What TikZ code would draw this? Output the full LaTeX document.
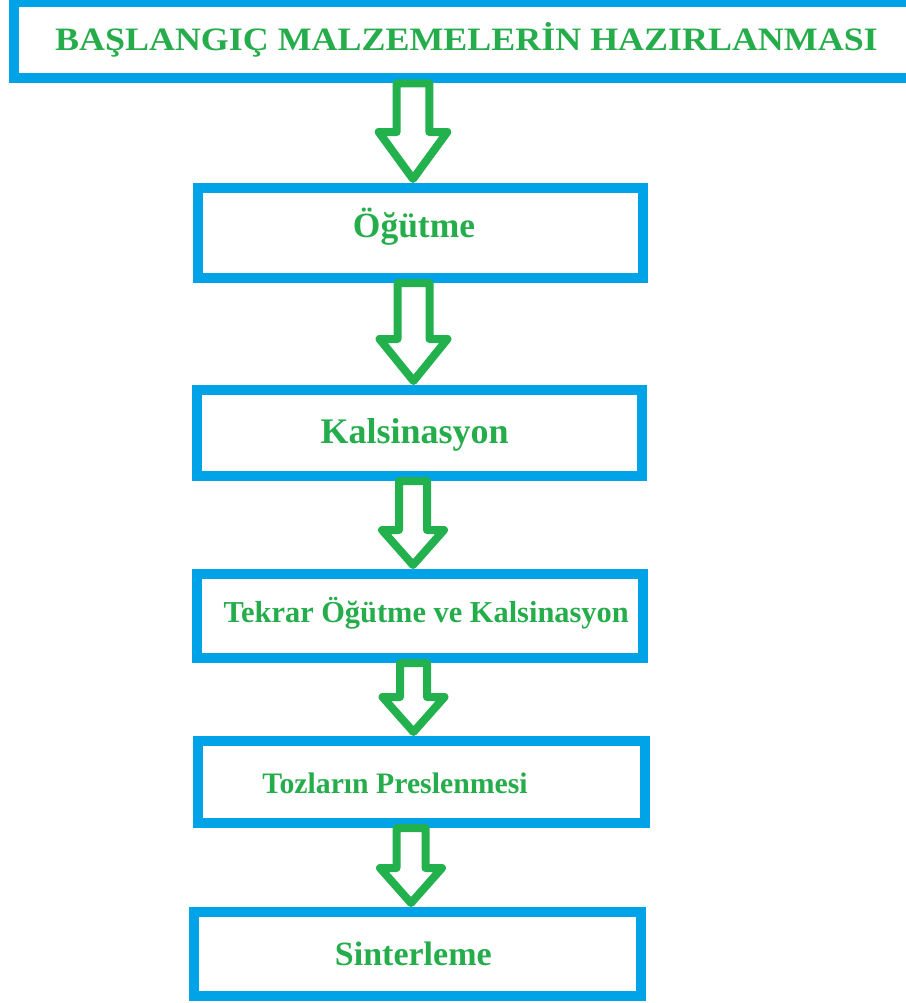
\documentclass[tikz,border=0pt]{standalone}
\usepackage{fontspec}
\setmainfont{Liberation Serif}
\usetikzlibrary{calc}
\definecolor{blu}{HTML}{00A2E8}
\definecolor{grn}{HTML}{22B14C}
\definecolor{txtgrn}{HTML}{26AD4B}
\tikzset{
  box/.style={draw=blu, line width=7.5pt, fill=white, inner sep=0pt},
  lbl/.style={text=txtgrn, anchor=base, inner sep=0pt, font=\bfseries},
  barrow/.style={draw=grn, line width=6pt, line join=round, fill=white},
}
% from node, to node, centre x (px), shaft half width, head half width, head length (px)
\newcommand\blockarrow[6]{%
  \draw[barrow] let \p1=(#1.south), \p2=(#2.north), \p3=(#3,0) in
    (\x3-#4*0.75pt,\y1) -- (\x3-#4*0.75pt,\y2+3pt+#6*0.75pt)
    -- (\x3-#5*0.75pt,\y2+3pt+#6*0.75pt) -- (\x3,\y2+3pt)
    -- (\x3+#5*0.75pt,\y2+3pt+#6*0.75pt) -- (\x3+#4*0.75pt,\y2+3pt+#6*0.75pt)
    -- (\x3+#4*0.75pt,\y1) -- cycle;
}
\begin{document}
\begin{tikzpicture}[x=0.75pt,y=-0.75pt]
\useasboundingbox (0,0) rectangle (906,1003);
\clip (0,0) rectangle (906,1003);
\fill[white] (0,0) rectangle (906,1003);
% boxes
\node[box, minimum width=906*0.75pt, minimum height=76.5*0.75pt] (b0) at (467,40) {};
\node[box, minimum width=445*0.75pt, minimum height=90*0.75pt] (b1) at (420.5,233) {};
\node[box, minimum width=445*0.75pt, minimum height=86*0.75pt] (b2) at (419.5,433) {};
\node[box, minimum width=446*0.75pt, minimum height=84*0.75pt] (b3) at (420,616) {};
\node[box, minimum width=447*0.75pt, minimum height=82*0.75pt] (b4) at (421.5,782) {};
\node[box, minimum width=447*0.75pt, minimum height=84*0.75pt] (b5) at (417.5,954) {};
% labels
\node[lbl, font=\bfseries\fontsize{24.5}{28}\selectfont] (t0) at (466.5,50) {\scalebox{1.1}[1]{BAŞLANGIÇ MALZEMELERİN HAZIRLANMASI}};
\node[lbl, font=\bfseries\fontsize{26.6}{30}\selectfont] (t1) at (414,237) {Öğütme};
\node[lbl, font=\bfseries\fontsize{27}{30}\selectfont] (t2) at (414.7,443) {Kalsinasyon};
\node[lbl, font=\bfseries\fontsize{22.8}{26}\selectfont] (t3) at (426.2,622.7) {Tekrar Öğütme ve Kalsinasyon};
\node[lbl, font=\bfseries\fontsize{22.3}{26}\selectfont] (t4) at (395,793) {Tozların Preslenmesi};
\node[lbl, font=\bfseries\fontsize{25.5}{28}\selectfont] (t5) at (413.3,965) {Sinterleme};
% arrows
\blockarrow{b0}{b1}{413}{16.3}{34.3}{47}
\blockarrow{b1}{b2}{413.5}{16}{34}{42}
\blockarrow{b2}{b3}{413}{14}{31}{35}
\blockarrow{b3}{b4}{413.5}{13.5}{31}{35}
\blockarrow{b4}{b5}{411}{14.5}{31}{35}
\end{tikzpicture}
\end{document}
